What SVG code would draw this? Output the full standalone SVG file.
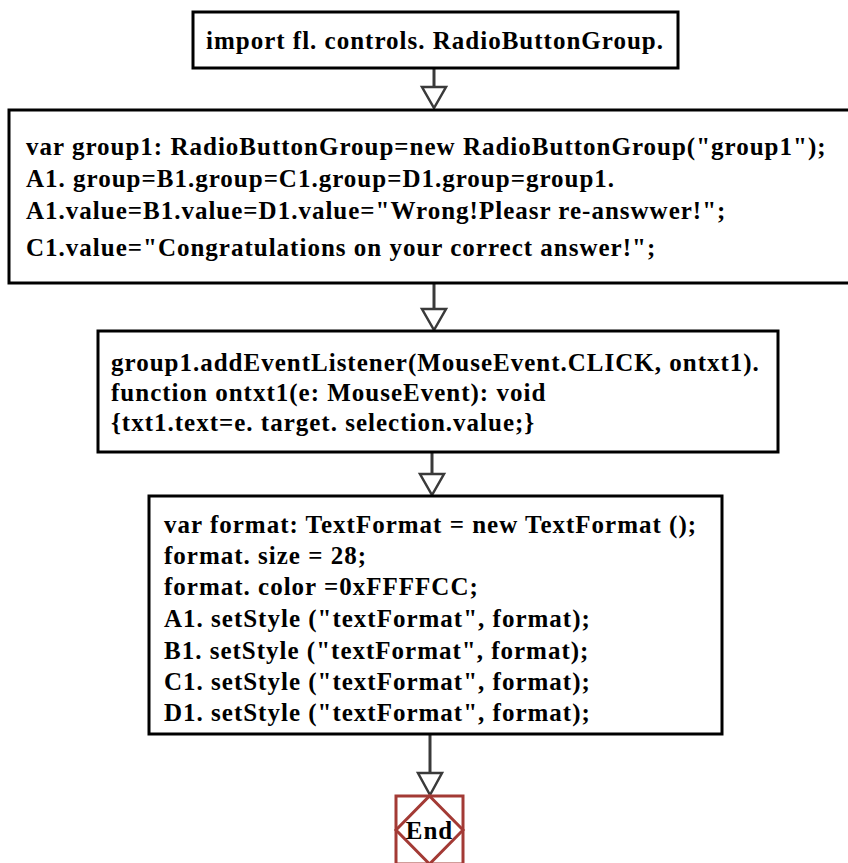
<svg xmlns="http://www.w3.org/2000/svg" width="848" height="863" viewBox="0 0 848 863">
<style>
.box{fill:#fff;stroke:#000;stroke-width:3}
.t{font-family:"Liberation Serif","Times New Roman",serif;font-weight:bold;font-size:25px;letter-spacing:1px;fill:#000}
.c{fill:none;stroke:#3a3a3a;stroke-width:3}
.ah{fill:#fff;stroke:#3a3a3a;stroke-width:2.5;stroke-linejoin:miter}
.end{fill:#fff;stroke:#a33a35;stroke-width:3}
</style>
<rect width="848" height="863" fill="#fff"/>
<g id="connectors">
<line class="c" x1="434" y1="69" x2="434" y2="90"/>
<polygon class="ah" points="422,87 446,87 434,108"/>
<line class="c" x1="434" y1="283" x2="434" y2="312"/>
<polygon class="ah" points="422,309 446,309 434,330"/>
<line class="c" x1="432" y1="452" x2="432" y2="477"/>
<polygon class="ah" points="420,474 444,474 432,495"/>
<line class="c" x1="430" y1="734" x2="430" y2="776"/>
<polygon class="ah" points="418,773 442,773 430,795"/>
</g>
<g id="n1">
<rect class="box" x="193" y="12" width="485" height="56"/>
<text class="t" x="206" y="49">import fl. controls. RadioButtonGroup.</text>
</g>
<g id="n2">
<rect class="box" x="9" y="110" width="846" height="173"/>
<text class="t" x="26" y="155">var group1: RadioButtonGroup=new RadioButtonGroup("group1");</text>
<text class="t" x="26" y="187">A1. group=B1.group=C1.group=D1.group=group1.</text>
<text class="t" x="26" y="219">A1.value=B1.value=D1.value="Wrong!Pleasr re-answwer!";</text>
<text class="t" x="26" y="256">C1.value="Congratulations on your correct answer!";</text>
</g>
<g id="n3">
<rect class="box" x="98" y="331" width="680" height="121"/>
<text class="t" x="111" y="371">group1.addEventListener(MouseEvent.CLICK, ontxt1).</text>
<text class="t" x="111" y="401">function ontxt1(e: MouseEvent): void</text>
<text class="t" x="111" y="431">{txt1.text=e. target. selection.value;}</text>
</g>
<g id="n4">
<rect class="box" x="149" y="496" width="573" height="238"/>
<text class="t" x="164" y="533">var format: TextFormat = new TextFormat ();</text>
<text class="t" x="164" y="564">format. size = 28;</text>
<text class="t" x="164" y="595">format. color =0xFFFFCC;</text>
<text class="t" x="164" y="627">A1. setStyle ("textFormat", format);</text>
<text class="t" x="164" y="659">B1. setStyle ("textFormat", format);</text>
<text class="t" x="164" y="690">C1. setStyle ("textFormat", format);</text>
<text class="t" x="164" y="721">D1. setStyle ("textFormat", format);</text>
</g>
<g id="end">
<rect class="end" x="396" y="796" width="67" height="68"/>
<polygon class="end" points="429.5,796 463,830 429.5,864 396,830"/>
<text class="t" x="429.5" y="839" text-anchor="middle" letter-spacing="0.5">End</text>
</g>
</svg>
